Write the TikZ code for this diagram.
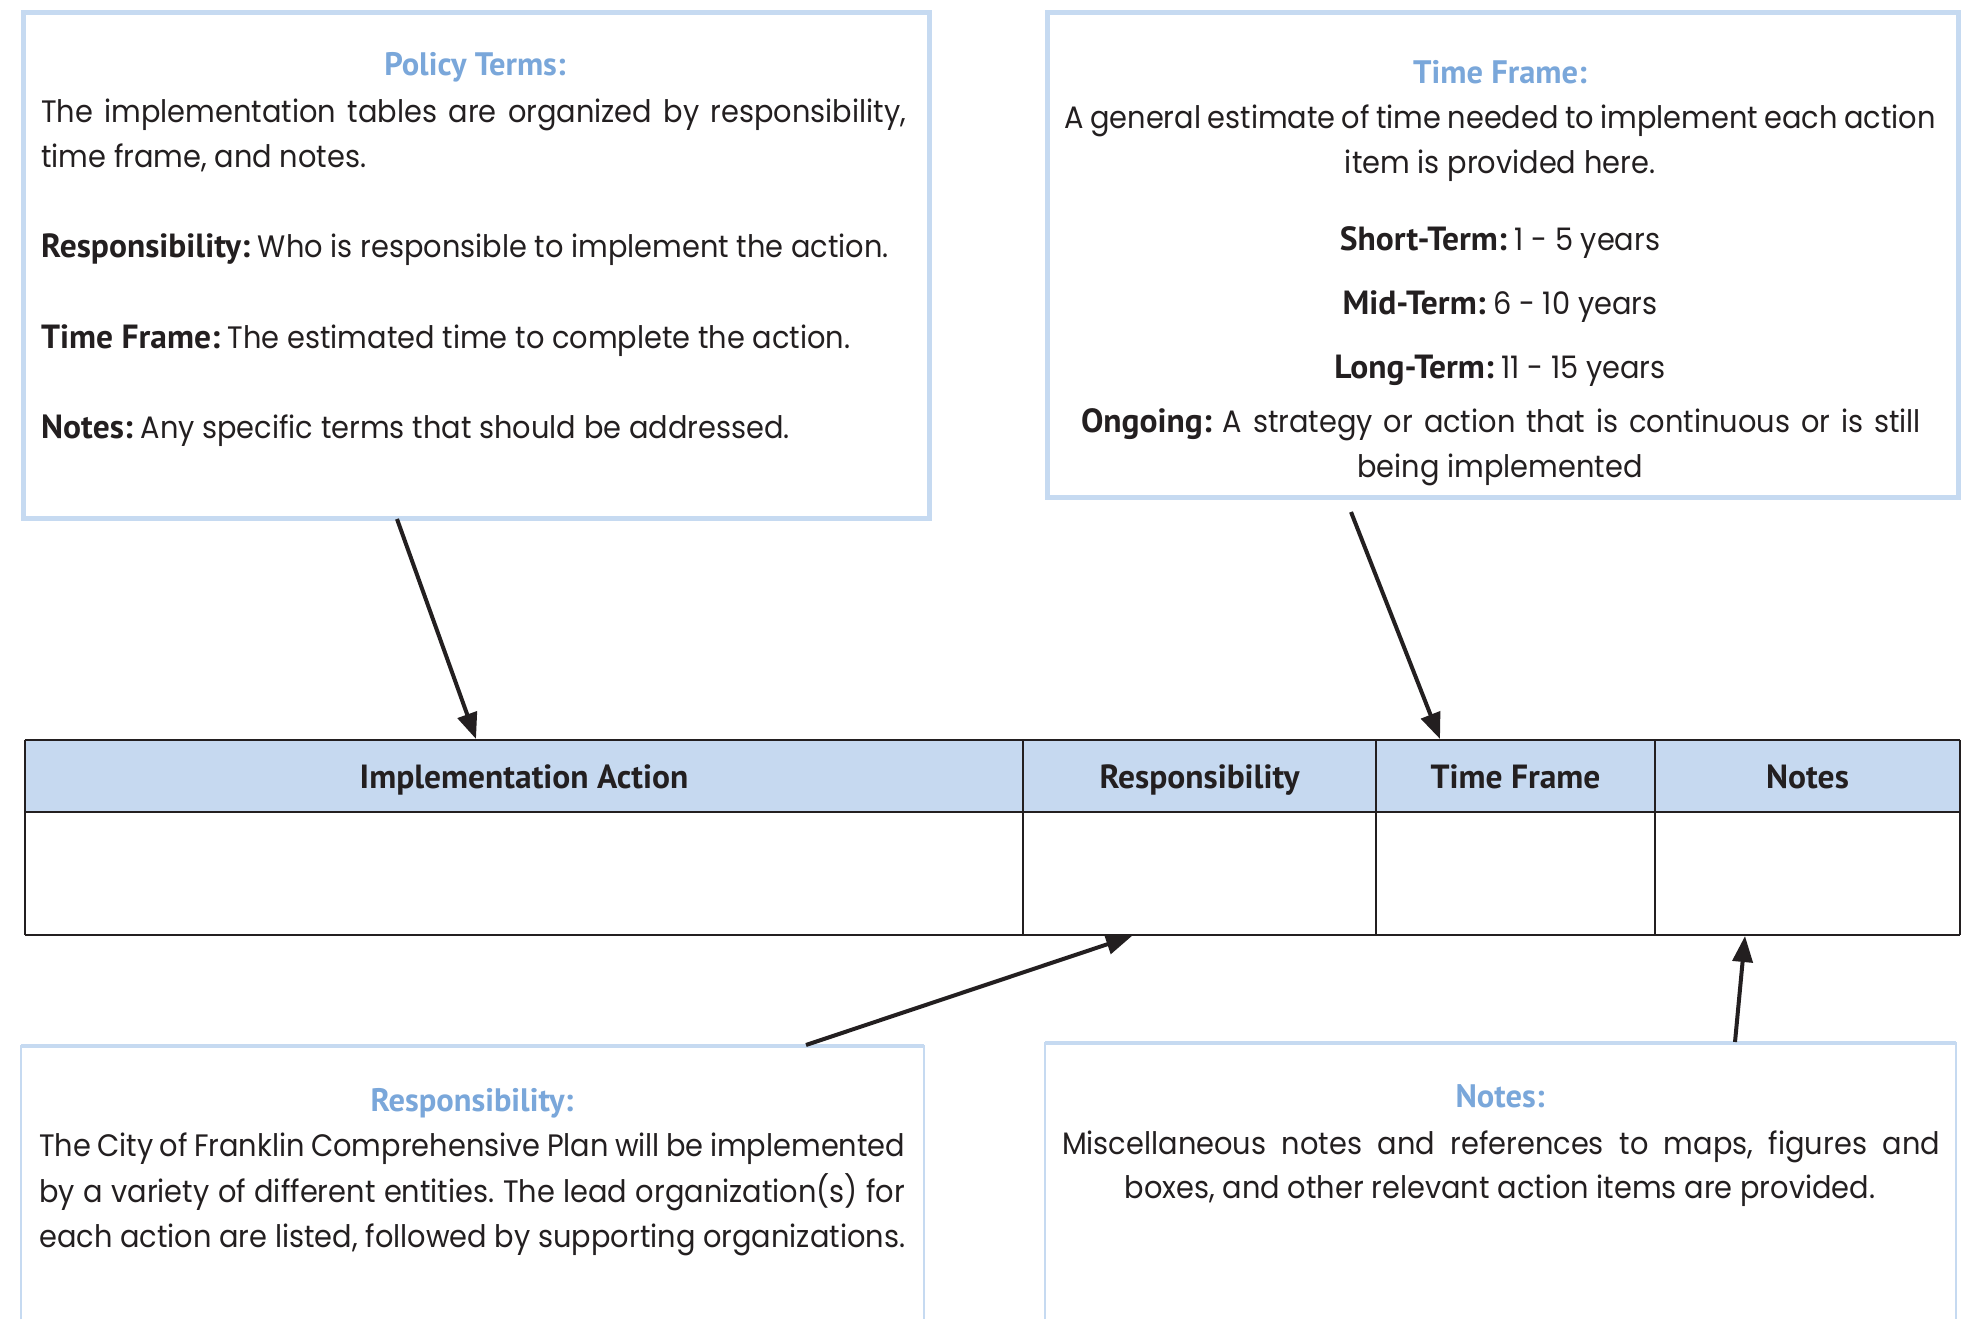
\documentclass[tikz,border=0pt]{standalone}
\usepackage{fontspec}
\setmainfont{Poppins}[FakeStretch=0.93]
\newfontfamily\labf{PT Sans}
\usetikzlibrary{arrows.meta}
\definecolor{boxblue}{RGB}{198,218,241}
\definecolor{titleblue}{RGB}{122,167,218}
\definecolor{hdrfill}{RGB}{198,217,240}
\definecolor{ink}{RGB}{35,31,32}
\frenchspacing
\begin{document}
\begin{tikzpicture}[x=1pt,y=-1pt,
  topbox/.style={draw=boxblue,line width=5pt,inner sep=0pt},
  body/.style={inner sep=0pt,font=\fontsize{31}{40}\selectfont,text=ink},
  ttl/.style={inner sep=0pt,font=\labf\bfseries\fontsize{32.5}{38}\selectfont,text=titleblue,text height=23pt,text depth=0pt},
  hdr/.style={inner sep=0pt,font=\labf\bfseries\fontsize{33.5}{38}\selectfont,text=ink,text height=24pt,text depth=0pt},
  arr/.style={draw=ink,line width=4pt,-{Triangle[length=26pt,width=20pt]}},
  tline/.style={draw=ink,line width=2.5pt},
  cline/.style={draw=ink,line width=1.5pt}]
\newcommand{\lb}[1]{{\labf\bfseries\fontsize{33.5}{40}\selectfont #1}}
\useasboundingbox (0,0) rectangle (1969,1319);
\fill[white] (0,0) rectangle (1969,1319);

% ---------- box 1: Policy Terms
\node[topbox,anchor=north west,minimum width=906pt,minimum height=506pt] (pbox) at (21,10) {};
\node[ttl] (pt) at (475,64) {Policy Terms:};
\node[body,anchor=mid west] (p1) at (41,120) {\makebox[865pt][s]{The implementation tables are organized by responsibility,}};
\node[body,anchor=mid west] (p2) at (41,165) {time frame, and notes.};
\node[body,anchor=mid west] (p3) at (41,255) {\lb{Responsibility:} Who is responsible to implement the action.};
\node[body,anchor=mid west] (p4) at (41,346) {\lb{Time Frame:} The estimated time to complete the action.};
\node[body,anchor=mid west] (p5) at (41,436) {\lb{Notes:} Any specific terms that should be addressed.};

% ---------- box 2: Time Frame
\node[topbox,anchor=north west,minimum width=911pt,minimum height=485pt] (tbox) at (1045,10) {};
\node[ttl] (tt) at (1500,72) {Time Frame:};
\node[body,anchor=mid] (t1) at (1500,126) {\makebox[871pt][s]{A general estimate of time needed to implement each action}};
\node[body,anchor=mid] (t2) at (1500,171) {item is provided here.};
\node[body,anchor=mid] (t3) at (1500,248) {\lb{Short-Term:} 1 - 5 years};
\node[body,anchor=mid] (t4) at (1500,312) {\lb{Mid-Term:} 6 - 10 years};
\node[body,anchor=mid] (t5) at (1500,376) {\lb{Long-Term:} 11 - 15 years};
\node[body,anchor=mid] (t6) at (1501,430) {\makebox[840pt][s]{\lb{Ongoing:} A strategy or action that is continuous or is still}};
\node[body,anchor=mid] (t7) at (1500,475) {being implemented};

% ---------- table
\fill[hdrfill] (25,740) rectangle (1960,812);
\node[hdr,minimum width=998pt,minimum height=72pt] (h1) at (524,776) {Implementation Action};
\node[hdr,minimum width=353pt,minimum height=72pt] (h2) at (1199.5,776) {Responsibility};
\node[hdr,minimum width=279pt,minimum height=72pt] (h3) at (1515.5,776) {Time Frame};
\node[hdr,minimum width=305pt,minimum height=72pt] (h4) at (1807.5,776) {Notes};
\node[inner sep=0pt,minimum width=998pt,minimum height=123pt] (c1) at (524,873.5) {};
\node[inner sep=0pt,minimum width=353pt,minimum height=123pt] (c2) at (1199.5,873.5) {};
\node[inner sep=0pt,minimum width=279pt,minimum height=123pt] (c3) at (1515.5,873.5) {};
\node[inner sep=0pt,minimum width=305pt,minimum height=123pt] (c4) at (1807.5,873.5) {};
\draw[cline] (h1.north east) -- (c1.south east);
\draw[cline] (h2.north east) -- (c2.south east);
\draw[cline] (h3.north east) -- (c3.south east);
\draw[tline] (h1.north west) -- (h4.north east);
\draw[tline] (h1.south west) -- (h4.south east);
\draw[tline] (c1.south west) -- (c4.south east);
\draw[cline] (h1.north west) -- (c1.south west);
\draw[cline] (h4.north east) -- (c4.south east);

% ---------- box 3: Responsibility
\coordinate (rb1) at (21,1319);
\coordinate (rb2) at (21,1046);
\coordinate (rb3) at (924,1046);
\coordinate (rb4) at (924,1319);
\draw[draw=boxblue,line width=2.5pt] (rb1) -- (rb2) -- (rb3) -- (rb4);
\draw[draw=boxblue,line width=4pt] (rb2) -- (rb3);
\node[ttl] (rt) at (472,1100) {Responsibility:};
\node[body,anchor=mid west] (r1) at (39,1154) {\makebox[866pt][s]{The City of Franklin Comprehensive Plan will be implemented}};
\node[body,anchor=mid west] (r2) at (39,1200) {\makebox[866pt][s]{by a variety of different entities. The lead organization(s) for}};
\node[body,anchor=mid west] (r3) at (39,1245) {\makebox[866pt][s]{each action are listed, followed by supporting organizations.}};

% ---------- box 4: Notes
\coordinate (nb1) at (1045,1319);
\coordinate (nb2) at (1045,1043);
\coordinate (nb3) at (1956,1043);
\coordinate (nb4) at (1956,1319);
\draw[draw=boxblue,line width=2.5pt] (nb1) -- (nb2) -- (nb3) -- (nb4);
\draw[draw=boxblue,line width=4pt] (nb2) -- (nb3);
\node[ttl] (nt) at (1500,1096) {Notes:};
\node[body,anchor=mid] (n1) at (1501,1152) {\makebox[878pt][s]{Miscellaneous notes and references to maps, figures and}};
\node[body,anchor=mid] (n2) at (1500,1196) {boxes, and other relevant action items are provided.};

% ---------- arrows
\coordinate (a1s) at (397,519);
\coordinate (a1e) at (476,739);
\coordinate (a2s) at (1351,512);
\coordinate (a2e) at (1440,739);
\coordinate (a3s) at (806,1045);
\coordinate (a3e) at (1132,936);
\coordinate (a4s) at (1735,1042);
\coordinate (a4e) at (1745,936);
\draw[arr] (a1s) -- (a1e);
\draw[arr] (a2s) -- (a2e);
\draw[arr] (a3s) -- (a3e);
\draw[arr] (a4s) -- (a4e);
\end{tikzpicture}
\end{document}
